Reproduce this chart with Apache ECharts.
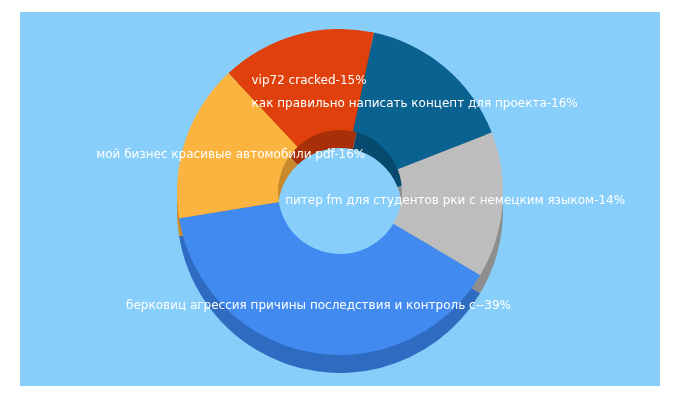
<!DOCTYPE html>
<html><head><meta charset="utf-8">
<script src="https://cdn.jsdelivr.net/npm/echarts@6/dist/echarts.min.js"></script>
<style>html,body{margin:0;padding:0;background:#fff}#c{width:680px;height:400px}</style>
</head><body><div id="c"></div>
<script>
const names = ['как правильно написать концепт для проекта','питер fm для студентов рки с немецким языком','берковиц агрессия причины последствия и контроль с-','мой бизнес красивые автомобили pdf','vip72 cracked'];
const values = [15.4, 14.2, 38.1, 15.3, 15.0];
const colors = ['#0A6291','#BDBDBD','#418BF0','#FBB43F','#E0400B'];
const sideColors = ['#064A6E','#8E8E8E','#2F6BC0','#C88A2C','#A82F08'];
const chart = echarts.init(document.getElementById('c'));
const data = names.map((n,i)=>({name:n,value:values[i],itemStyle:{color:colors[i]}}));
const side = names.map((n,i)=>({name:n,value:values[i],itemStyle:{color:sideColors[i]}}));
chart.setOption({
  animation:false,
  graphic:[{type:'rect',shape:{x:20,y:12,width:640,height:374},style:{fill:'#87CEFA'},z:-10}],
  series:[
    {type:'pie',center:[340,210],radius:[62,163],startAngle:78,silent:true,label:{show:false},labelLine:{show:false},data:side,z:1},
    {type:'pie',center:[340,192],radius:[62,163],startAngle:78,z:2,
     label:{show:true,position:'inside',color:'#fff',fontSize:12,fontFamily:'Verdana, DejaVu Sans, sans-serif',formatter:p=>p.name+'-'+Math.round(p.percent)+'%'},
     labelLine:{show:false},data:data}
  ]
});
</script></body></html>
